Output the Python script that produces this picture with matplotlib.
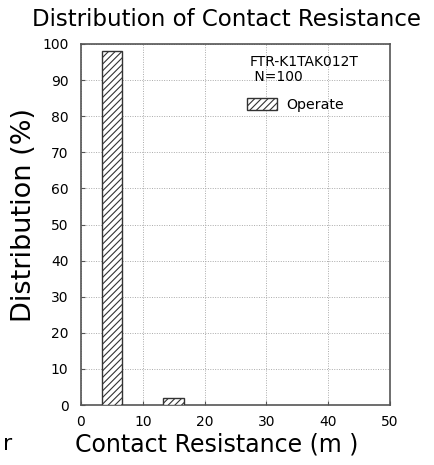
import matplotlib.pyplot as plt

plt.rcParams['font.family'] = ['DejaVu Sans']
plt.rcParams['hatch.linewidth'] = 0.8

# Dados do histograma
bin_centers = [5, 15]
distribution = [98, 2]
x_ticks = [0, 10, 20, 30, 40, 50]
y_ticks = [0, 10, 20, 30, 40, 50, 60, 70, 80, 90, 100]

fig = plt.figure(figsize=(4.34, 4.65), dpi=100)
ax = fig.add_axes([0.1866, 0.129, 0.712, 0.7764])

ax.bar(bin_centers, distribution, width=3.3, color='white', edgecolor='#333333',
       linewidth=1.0, hatch='/////', label='Operate', zorder=3)

ax.set_xlim(0, 50)
ax.set_ylim(0, 100)
ax.set_xticks(x_ticks)
ax.set_yticks(y_ticks)
ax.grid(True, linestyle=(0, (1, 1.5)), color='#aaaaaa', linewidth=0.7, zorder=0)
ax.tick_params(direction='in', length=3, labelsize=10, color='#555555')
ax.tick_params(axis='y', pad=9)
ax.tick_params(axis='x', pad=7)
for s in ax.spines.values():
    s.set_color('#555555')
    s.set_linewidth(1.2)

fig.text(0.523, 0.982, 'Distribution of Contact Resistance', fontsize=16.5,
         ha='center', va='top')
ax.set_xlabel('Contact Resistance (m )', fontsize=17, labelpad=3, x=0.44)
ax.set_ylabel('Distribution (%)', fontsize=19.5, labelpad=4, y=0.526)

ax.text(0.547, 0.97, 'FTR-K1TAK012T\n N=100', transform=ax.transAxes,
        fontsize=10, va='top', ha='left', linespacing=1.1, zorder=4)
ax.legend(loc='upper left', bbox_to_anchor=(0.537, 0.85), frameon=False,
          fontsize=10.2, borderpad=0, borderaxespad=0, handlelength=2.1,
          handleheight=0.95, handletextpad=0.7)

fig.text(0.008, 0.033, 'r', fontsize=16)

fig.savefig('out.png', dpi=100)
